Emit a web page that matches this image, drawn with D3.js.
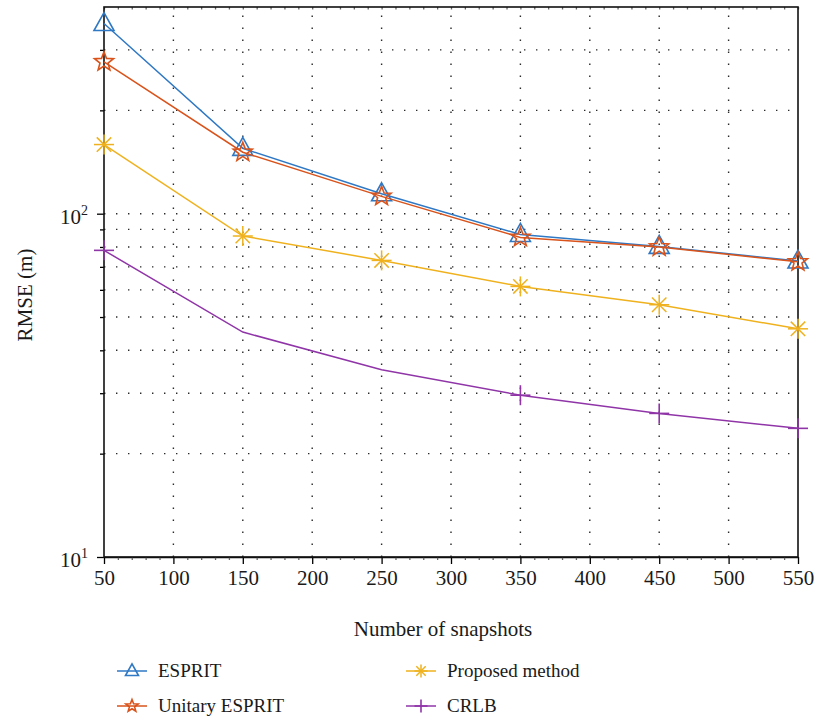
<!DOCTYPE html>
<html>
<head>
<meta charset="utf-8">
<script src="https://cdn.jsdelivr.net/npm/d3@7/dist/d3.min.js"></script>
<style>
  body { margin: 0; background: #fff; }
  svg { display: block; }
  text { font-family: "Liberation Serif", "Times New Roman", serif; fill: #1a1a1a; }
</style>
</head>
<body>
<svg id="chart" width="817" height="718"></svg>
<script>
// Snapshot counts on the x axis
const snapshots = [50, 150, 250, 350, 450, 550];

// RMSE (m) of each estimator
const esprit        = [358, 155, 114.3, 87.0, 80.3, 72.8];
const unitaryEsprit = [277, 151, 112.3, 85.3, 80.0, 72.4];
const proposed      = [159, 86.1, 73.1, 61.4, 54.3, 46.2];
const crlb          = [78.2, 45.2, 35.1, 29.6, 26.2, 23.7];

// CRLB curve only carries markers at these snapshot counts
const crlbMarked = [50, 350, 450, 550];

const xTicks = [50, 100, 150, 200, 250, 300, 350, 400, 450, 500, 550];
const yMajor = [10, 100];
const yMinor = [20, 30, 40, 50, 60, 70, 80, 90, 200, 300];

const seriesNames = ["ESPRIT", "Unitary ESPRIT", "Proposed method", "CRLB"];
const seriesColors = ["#2f78c4", "#d9531b", "#efb21e", "#9035a8"];
const seriesMarkers = ["triangle", "star", "asterisk", "plus"];
const seriesValues = [esprit, unitaryEsprit, proposed, crlb];

const svg = d3.select("#chart");
const pLeft = 104, pRight = 798, pTop = 7, pBottom = 557;

const x = d3.scaleLinear().domain([50, 550]).range([pLeft, pRight]);
const y = d3.scaleLog().domain([10, 400]).range([pBottom, pTop]);

// dotted grid
const grid = svg.append("g").attr("stroke", "#2a2a2a").attr("stroke-width", 1.4)
  .attr("stroke-dasharray", "1.4,10.6");
xTicks.slice(1, -1).forEach(v => {
  grid.append("line").attr("x1", x(v)).attr("x2", x(v))
    .attr("y1", pBottom).attr("y2", pTop);
});
yMajor.concat(yMinor).filter(v => v > 10).forEach(v => {
  grid.append("line").attr("x1", pLeft).attr("x2", pRight)
    .attr("y1", y(v)).attr("y2", y(v));
});

// axes
const xAxis = svg.append("g").attr("transform", `translate(0,${pBottom})`)
  .call(d3.axisBottom(x).tickValues(xTicks).tickSize(7).tickSizeOuter(0).tickFormat(d3.format("d")));
xAxis.selectAll("text").attr("font-size", 21).attr("dy", "0.95em").attr("y", 8)
  .attr("font-family", "Liberation Serif, serif").attr("fill", "#1a1a1a");

const xMinor = d3.range(60, 550, 10).filter(v => v % 50 !== 0);
svg.append("g").attr("transform", `translate(0,${pBottom})`)
  .call(d3.axisBottom(x).tickValues(xMinor).tickSize(3).tickSizeOuter(0).tickFormat(""))
  .call(g => g.select(".domain").remove())
  .selectAll("line").attr("stroke", "#666");
svg.append("g").attr("transform", `translate(0,${pTop})`)
  .call(d3.axisBottom(x).tickValues(xMinor.concat(xTicks)).tickSize(2.5).tickSizeOuter(0).tickFormat(""))
  .call(g => g.select(".domain").remove())
  .selectAll("line").attr("stroke", "#666");

svg.append("g").attr("transform", `translate(${pLeft},0)`)
  .call(d3.axisLeft(y).tickValues(yMajor).tickSize(7).tickSizeOuter(0).tickFormat(""))
  .call(g => g.select(".domain").remove());
svg.append("g").attr("transform", `translate(${pLeft},0)`)
  .call(d3.axisLeft(y).tickValues(yMinor).tickSize(4).tickSizeOuter(0).tickFormat(""))
  .call(g => g.select(".domain").remove());

// decade labels with superscript exponents
yMajor.forEach(v => {
  const t = svg.append("text").attr("x", 88).attr("y", y(v) + 10)
    .attr("text-anchor", "end").attr("font-size", 21);
  t.append("tspan").text("10");
  t.append("tspan").attr("dy", -9).attr("font-size", 14).text(Math.round(Math.log10(v)));
});

// frame
svg.append("rect").attr("x", pLeft).attr("y", pTop)
  .attr("width", pRight - pLeft).attr("height", pBottom - pTop)
  .attr("fill", "none").attr("stroke", "#111").attr("stroke-width", 1.6);

svg.selectAll(".domain").attr("stroke", "#111").attr("stroke-width", 1.6);
svg.selectAll(".tick line").attr("stroke-width", 1.3);

// marker shapes
function drawMarker(g, type, cx, cy, color, s) {
  const k = s / 10;
  if (type === "triangle") {
    g.append("path")
      .attr("d", `M${cx},${cy - 11 * k} L${cx + 10 * k},${cy + 7 * k} L${cx - 10 * k},${cy + 7 * k} Z`)
      .attr("fill", "none").attr("stroke", color).attr("stroke-width", 1.6);
  } else if (type === "star") {
    const pts = [];
    for (let i = 0; i < 10; i++) {
      const r = i % 2 === 0 ? 10 * k : 4.2 * k;
      const a = -Math.PI / 2 + i * Math.PI / 5;
      pts.push([cx + r * Math.cos(a), cy + r * Math.sin(a)]);
    }
    g.append("path").attr("d", "M" + pts.map(p => p.join(",")).join("L") + "Z")
      .attr("fill", "none").attr("stroke", color).attr("stroke-width", 1.6);
  } else if (type === "asterisk") {
    const r = 10 * k, d = r * 0.72;
    [[0, -r, 0, r], [-r, 0, r, 0], [-d, -d, d, d], [-d, d, d, -d]].forEach(l => {
      g.append("line").attr("x1", cx + l[0]).attr("y1", cy + l[1])
        .attr("x2", cx + l[2]).attr("y2", cy + l[3])
        .attr("stroke", color).attr("stroke-width", 1.5);
    });
  } else if (type === "plus") {
    const r = 10 * k;
    g.append("line").attr("x1", cx - r).attr("x2", cx + r).attr("y1", cy).attr("y2", cy)
      .attr("stroke", color).attr("stroke-width", 1.6);
    g.append("line").attr("x1", cx).attr("x2", cx).attr("y1", cy - r).attr("y2", cy + r)
      .attr("stroke", color).attr("stroke-width", 1.6);
  }
}

const line = d3.line().x(d => x(d[0])).y(d => y(d[1]));

// draw back-to-front so ESPRIT's triangles sit under the stars
const order = [3, 2, 0, 1];
order.forEach(i => {
  const vals = seriesValues[i];
  const pts = snapshots.map((s, j) => [s, vals[j]]);
  const g = svg.append("g");
  g.append("path").datum(pts).attr("d", line)
    .attr("fill", "none").attr("stroke", seriesColors[i]).attr("stroke-width", 1.5);
  pts.forEach(p => {
    if (i === 3 && !crlbMarked.includes(p[0])) return;
    drawMarker(g, seriesMarkers[i], x(p[0]), y(p[1]), seriesColors[i], 10);
  });
});

// axis titles
svg.append("text").attr("x", (pLeft + pRight) / 2 - 8).attr("y", 636)
  .attr("text-anchor", "middle").attr("font-size", 21).text("Number of snapshots");
svg.append("text").attr("transform", `translate(32,${(pTop + pBottom) / 2 + 13}) rotate(-90)`)
  .attr("text-anchor", "middle").attr("font-size", 21).text("RMSE (m)");

// legend in two columns below the plot
const legendPos = [[117, 671], [117, 706], [406, 671], [406, 706]];
seriesNames.forEach((name, i) => {
  const [lx, ly] = legendPos[i];
  const g = svg.append("g");
  g.append("line").attr("x1", lx).attr("x2", lx + 30).attr("y1", ly).attr("y2", ly)
    .attr("stroke", seriesColors[i]).attr("stroke-width", 1.5);
  drawMarker(g, seriesMarkers[i], lx + 15, ly, seriesColors[i], 6.5);
  g.append("text").attr("x", lx + 41).attr("y", ly + 6).attr("font-size", 19).text(name);
});
</script>
</body>
</html>
